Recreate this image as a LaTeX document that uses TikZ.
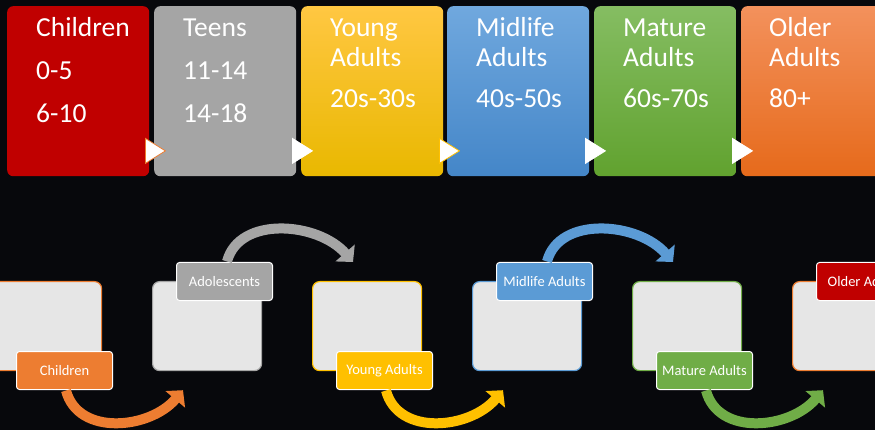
\documentclass[tikz,border=0pt]{standalone}
\usepackage{fontspec}
\setmainfont{Carlito}
\usetikzlibrary{arrows.meta,calc}
\definecolor{bg}{HTML}{07080C}
\definecolor{cred}{HTML}{C00000}
\definecolor{cgray}{HTML}{A5A5A5}
\definecolor{cyel}{HTML}{FFC000}
\definecolor{cyelT}{HTML}{FFC742}
\definecolor{cyelB}{HTML}{E9B800}
\definecolor{cblue}{HTML}{5B9BD5}
\definecolor{cblueT}{HTML}{70A8DE}
\definecolor{cblueB}{HTML}{4486C8}
\definecolor{cgreen}{HTML}{70AD47}
\definecolor{cgreenT}{HTML}{85BD62}
\definecolor{cgreenB}{HTML}{61A22F}
\definecolor{corange}{HTML}{ED7D31}
\definecolor{corangeT}{HTML}{F3915C}
\definecolor{corangeB}{HTML}{E66A1B}
\definecolor{clight}{HTML}{E6E6E6}
\begin{document}
\begin{tikzpicture}[x=1pt,y=-1pt,
  topbox/.style={rounded corners=6pt, minimum width=142pt, minimum height=170pt, anchor=north west, inner sep=0pt},
  toptext/.style={anchor=base west, inner sep=0pt, text=white, font=\fontsize{27.5}{30}\selectfont},
  tri/.style={fill=white, line width=0.8pt, line join=miter},
  lightbox/.style={rounded corners=7pt, fill=clight, line width=1.2pt, minimum width=109pt, minimum height=89pt, anchor=north west, inner sep=0pt},
  lab/.style={rounded corners=3pt, draw=white, line width=1pt, minimum width=96pt, minimum height=38pt, anchor=north west, inner sep=0pt, text=white, font=\fontsize{14.5}{16}\selectfont},
  arc/.style={line width=10pt, -{Triangle[length=12pt,width=25pt]}}
]
\useasboundingbox (0,0) rectangle (875,430);
\fill[bg] (0,0) rectangle (875,430);
\clip (0,0) rectangle (875,430);

% top boxes
\node[topbox, fill=cred] (b1) at (7,6) {};
\node[topbox, fill=cgray] (b2) at (154,6) {};
\node[topbox, top color=cyelT, bottom color=cyelB] (b3) at (301,6) {};
\node[topbox, top color=cblueT, bottom color=cblueB] (b4) at (447,6) {};
\node[topbox, top color=cgreenT, bottom color=cgreenB] (b5) at (594,6) {};
\node[topbox, top color=corangeT, bottom color=corangeB] (b6) at (741,6) {};

% top texts
\node[toptext] (t1a) at (36,37) {Children};
\node[toptext] (t1b) at (36,80) {0-5};
\node[toptext] (t1c) at (36,123) {6-10};
\node[toptext] (t2a) at (183,37) {Teens};
\node[toptext] (t2b) at (183,80) {11-14};
\node[toptext] (t2c) at (183,123) {14-18};
\node[toptext] (t3a) at (330,37) {Young};
\node[toptext] (t3b) at (330,67) {Adults};
\node[toptext] (t3c) at (330,108) {20s-30s};
\node[toptext] (t4a) at (476,37) {Midlife};
\node[toptext] (t4b) at (476,67) {Adults};
\node[toptext] (t4c) at (476,108) {40s-50s};
\node[toptext] (t5a) at (623,37) {Mature};
\node[toptext] (t5b) at (623,67) {Adults};
\node[toptext] (t5c) at (623,108) {60s-70s};
\node[toptext] (t6a) at (769,37) {Older};
\node[toptext] (t6b) at (769,67) {Adults};
\node[toptext] (t6c) at (769,108) {80+};

% white triangles between boxes
\draw[tri, draw=corange] ($(b1.south east)+(-4,-38)$) -- ($(b1.south east)+(16,-25.5)$) -- ($(b1.south east)+(-4,-13)$) -- cycle;
\draw[tri, draw=white] ($(b2.south east)+(-4,-38)$) -- ($(b2.south east)+(16,-25.5)$) -- ($(b2.south east)+(-4,-13)$) -- cycle;
\draw[tri, draw=cyel] ($(b3.south east)+(-4,-38)$) -- ($(b3.south east)+(16,-25.5)$) -- ($(b3.south east)+(-4,-13)$) -- cycle;
\draw[tri, draw=white] ($(b4.south east)+(-4,-38)$) -- ($(b4.south east)+(16,-25.5)$) -- ($(b4.south east)+(-4,-13)$) -- cycle;
\draw[tri, draw=white] ($(b5.south east)+(-4,-38)$) -- ($(b5.south east)+(16,-25.5)$) -- ($(b5.south east)+(-4,-13)$) -- cycle;

% bottom light boxes
\node[lightbox, draw=corange] (c1) at (-8,281) {};
\node[lightbox, draw=cgray] (c2) at (152,281) {};
\node[lightbox, draw=cyel] (c3) at (312,281) {};
\node[lightbox, draw=cblue] (c4) at (472,281) {};
\node[lightbox, draw=cgreen] (c5) at (632,281) {};
\node[lightbox, draw=corange] (c6) at (792,281) {};

% labels
\node[lab, fill=corange] (l1) at (16,351) {Children};
\node[lab, fill=cgray] (l2) at (176,262) {Adolescents};
\node[lab, fill=cyel] (l3) at (336,351) {Young Adults};
\node[lab, fill=cblue] (l4) at (496,262) {Midlife Adults};
\node[lab, fill=cgreen] (l5) at (656,351) {Mature Adults};
\node[lab, fill=cred] (l6) at (816,262) {Older Adults};

% curved arrows
\coordinate (s1) at ($(l1.south west)+(50,0.5)$);
\coordinate (e1) at ($(c2.south west)+(31,19)$);
\draw[arc, corange] (s1) .. controls +(12,46) and +(-33,39) .. (e1);
\coordinate (s3) at ($(l3.south west)+(50,0.5)$);
\coordinate (e3) at ($(c4.south west)+(31,19)$);
\draw[arc, cyel] (s3) .. controls +(12,46) and +(-33,39) .. (e3);
\coordinate (s5) at ($(l5.south west)+(50,0.5)$);
\coordinate (e5) at ($(c6.south west)+(31,19)$);
\draw[arc, cgreen] (s5) .. controls +(12,46) and +(-33,39) .. (e5);
\coordinate (s2) at ($(l2.north west)+(51,-0.5)$);
\coordinate (e2) at ($(c3.north west)+(41,-19)$);
\draw[arc, cgray] (s2) .. controls +(12,-46) and +(-35,-40) .. (e2);
\coordinate (s4) at ($(l4.north west)+(51,-0.5)$);
\coordinate (e4) at ($(c5.north west)+(41,-19)$);
\draw[arc, cblue] (s4) .. controls +(12,-46) and +(-35,-40) .. (e4);
\end{tikzpicture}
\end{document}
